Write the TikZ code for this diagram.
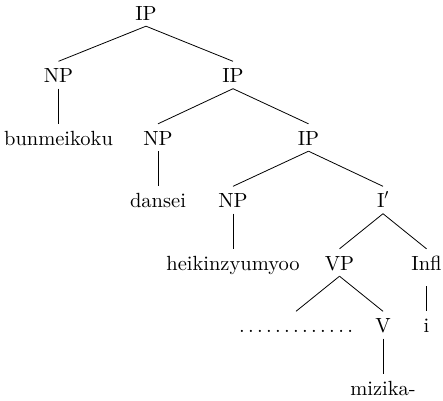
\documentclass[tikz,border=0pt]{standalone}
\usepackage{fontspec}
\setmainfont{lmroman10-regular.otf}
\usepackage{tikz}
\tikzset{every node/.style={font=\fontsize{20.5}{24}\selectfont}}
\tikzset{cat/.style={anchor=base,text height=15pt,text depth=0pt,inner ysep=6pt,inner xsep=2pt}}
\tikzset{branch/.style={line width=0.8pt}}
\begin{document}
\begin{tikzpicture}[x=1pt,y=-1pt]
		\useasboundingbox (0,0) rectangle (443,400);
		\node[cat] (ip1) at (146,20) {IP};
		\node[cat] (np1) at (58.5,82.5) {NP};
		\node[cat] (ip2) at (233,82.5) {IP};
		\node[cat] (bunmeikoku) at (58.5,145) {bunmeikoku};
		\node[cat] (np2) at (158,145) {NP};
		\node[cat] (ip3) at (308.5,145) {IP};
		\node[cat] (dansei) at (158,207.5) {dansei};
		\node[cat] (np3) at (233,207.5) {NP};
		\node[cat] (ibar) at (383,207.5) {I$'$};
		\node[cat] (heikin) at (233,270) {heikinzyumyoo};
		\node[cat] (vp) at (339.5,270) {VP};
		\node[cat] (infl) at (426.5,270) {Infl};
		\node[cat] (dots) at (296,332.5) {\makebox[118pt]{\dotfill}};
		\node[cat] (v) at (383,332.5) {V};
		\node[cat] (i) at (426.5,332.5) {i};
		\node[cat] (mizika) at (383,395) {mizika-};
		\path[branch] (ip1.south) edge (np1.north) edge (ip2.north);
		\path[branch] (np1.south) edge (bunmeikoku.north);
		\path[branch] (ip2.south) edge (np2.north) edge (ip3.north);
		\path[branch] (np2.south) edge (dansei.north);
		\path[branch] (ip3.south) edge (np3.north) edge (ibar.north);
		\path[branch] (np3.south) edge (heikin.north);
		\path[branch] (ibar.south) edge (vp.north) edge (infl.north);
		\path[branch] (vp.south) edge (dots.north) edge (v.north);
		\path[branch] ([yshift=-10pt]infl.south) edge (i.north);
		\path[branch] (v.south) edge (mizika.north);
	\end{tikzpicture}
\end{document}
